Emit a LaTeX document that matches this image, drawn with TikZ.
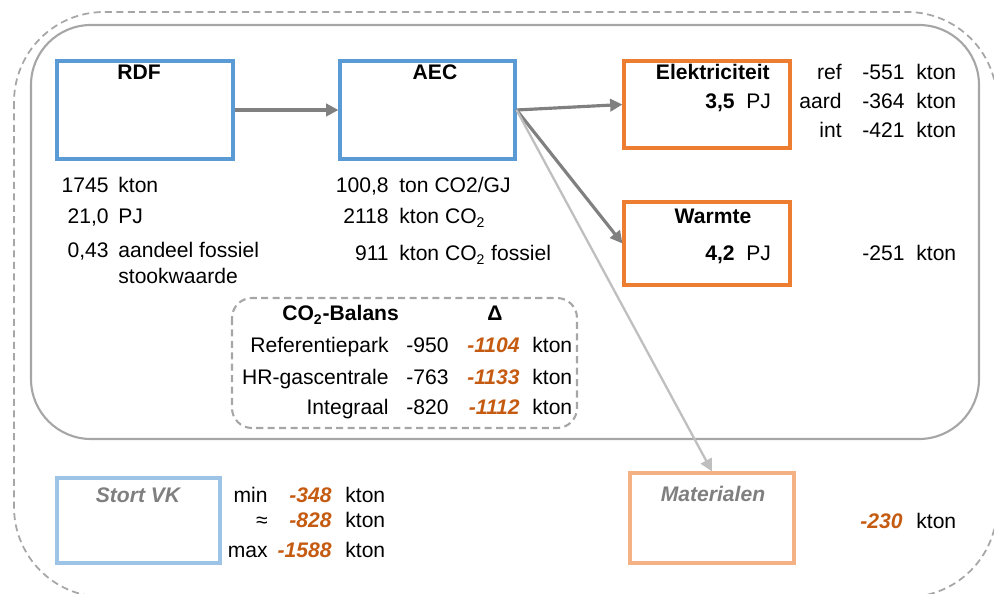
\documentclass[tikz,border=0pt]{standalone}
\usepackage{fontspec}
\setmainfont{Liberation Sans}
\usetikzlibrary{arrows.meta}
\definecolor{rdfblue}{HTML}{5B9BD5}
\definecolor{paleblue}{HTML}{9DC3E6}
\definecolor{outorange}{HTML}{ED7D31}
\definecolor{paleorange}{HTML}{F4B183}
\definecolor{deltaorange}{HTML}{C55A11}
\definecolor{framegray}{HTML}{A6A6A6}
\definecolor{flowgray}{HTML}{808080}
\definecolor{paleflow}{HTML}{BFBFBF}
\definecolor{fadedgray}{HTML}{7F7F7F}

\begin{document}
\begin{tikzpicture}[x=0.02cm, y=-0.02cm,
    font=\fontsize{12}{14.4}\selectfont,
    unit/.style={inner sep=0pt, anchor=base west},
    num/.style={inner sep=0pt, anchor=base east},
    bnum/.style={num, font=\fontsize{12}{14.4}\selectfont\bfseries},
    title/.style={inner sep=0pt, anchor=base, font=\fontsize{12}{14.4}\selectfont\bfseries},
    delta/.style={num, text=deltaorange, font=\fontsize{12}{14.4}\selectfont\bfseries\itshape},
    faded/.style={title, text=fadedgray, font=\fontsize{12}{14.4}\selectfont\bfseries\itshape},
    flowbox/.style={draw, line width=1.8pt, fill=white},
    flow/.style={draw=flowgray, line width=1.8pt, -{Triangle[length=7pt, width=7pt]}},
    dashframe/.style={framegray, line width=1pt, dash pattern=on 4pt off 2.5pt},
  ]
  \useasboundingbox (0,0) rectangle (994,594);
  \clip (0,0) rectangle (994,594);

  \draw[dashframe, rounded corners=1.8cm] (14,12) rectangle (997,597);
  \draw[framegray, line width=1.2pt, rounded corners=1.2cm] (31,25) rectangle (979,439);

  \node[flowbox, draw=rdfblue, minimum width=3.52cm, minimum height=1.96cm] (rdf) at (145,110) {};
  \node[flowbox, draw=rdfblue, minimum width=3.5cm, minimum height=1.96cm] (aec) at (427.5,110) {};
  \node[flowbox, draw=outorange, minimum width=3.32cm, minimum height=1.74cm] (elek) at (707,104.5) {};
  \node[flowbox, draw=outorange, minimum width=3.32cm, minimum height=1.66cm] (warmte) at (707,243.5) {};
  \node[flowbox, draw=paleblue, minimum width=3.26cm, minimum height=1.7cm] (stort) at (138.5,520.5) {};
  \node[flowbox, draw=paleorange, minimum width=3.28cm, minimum height=1.8cm] (mat) at (712,518) {};

  \draw[flow] (rdf) -- (aec);
  \draw[flow] (aec.east) -- (elek.west);
  \draw[flow] (aec.east) -- (warmte.west);
  \draw[flow, draw=paleflow, line width=1.3pt] (aec.east) -- (mat.north);

  \node[title] (rdft) at (139,80) {RDF};
  \node[title] (aect) at (435,80) {AEC};
  \node[title, anchor=base east] (elekt) at (770,80) {Elektriciteit};
  \node[title] (warmtet) at (713,224) {Warmte};
  \node[faded] (stortt) at (138,502) {Stort VK};
  \node[faded] (matt) at (713,501) {Materialen};

  \node[bnum] (elekn) at (735,109) {3,5};
  \node[unit] (eleku) at (746,109) {PJ};
  \node[bnum] (warmten) at (735,261) {4,2};
  \node[unit] (warmteu) at (746,261) {PJ};

  \node[num] (refl) at (842,80) {ref};
  \node[num] (refn) at (905,80) {-551};
  \node[unit] (refu) at (916,80) {kton};
  \node[num] (aardl) at (842,109) {aard};
  \node[num] (aardn) at (905,109) {-364};
  \node[unit] (aardu) at (916,109) {kton};
  \node[num] (intl) at (842,138) {int};
  \node[num] (intn) at (905,138) {-421};
  \node[unit] (intu) at (916,138) {kton};
  \node[num] (whn) at (905,261) {-251};
  \node[unit] (whu) at (916,261) {kton};

  \node[num] (rdfa) at (109,193) {1745};
  \node[unit] (rdfau) at (118,193) {kton};
  \node[num] (rdfb) at (109,224) {21,0};
  \node[unit] (rdfbu) at (118,224) {PJ};
  \node[num] (rdfc) at (109,258) {0,43};
  \node[unit] (rdfcu) at (118,258) {aandeel fossiel};
  \node[unit] (rdfcv) at (118,284) {stookwaarde};

  \node[num] (aeca) at (389,193) {100,8};
  \node[unit] (aecau) at (399,193) {ton CO2/GJ};
  \node[num] (aecb) at (389,224) {2118};
  \node[unit] (aecbu) at (399,224) {kton CO\textsubscript{2}};
  \node[num] (aecc) at (389,261) {911};
  \node[unit] (aeccu) at (399,261) {kton CO\textsubscript{2} fossiel};

  \draw[dashframe, line width=1.2pt, rounded corners=0.4cm] (232,298) rectangle (577,428);
  \node[title, anchor=base west] (balt) at (282,321) {CO\textsubscript{2}-Balans};
  \node[title] (baldelta) at (495,321) {Δ};
  \node[num] (bala) at (389,353) {Referentiepark};
  \node[num] (balan) at (449,353) {-950};
  \node[delta] (balad) at (520,353) {-1104};
  \node[unit] (balau) at (532,353) {kton};
  \node[num] (balb) at (389,385) {HR-gascentrale};
  \node[num] (balbn) at (449,385) {-763};
  \node[delta] (balbd) at (520,385) {-1133};
  \node[unit] (balbu) at (532,385) {kton};
  \node[num] (balc) at (389,415) {Integraal};
  \node[num] (balcn) at (449,415) {-820};
  \node[delta] (balcd) at (520,415) {-1112};
  \node[unit] (balcu) at (532,415) {kton};

  \node[num] (minl) at (268,502) {min};
  \node[delta] (mind) at (332,502) {-348};
  \node[unit] (minu) at (345,502) {kton};
  \node[num] (avgl) at (268,527) {≈};
  \node[delta] (avgd) at (332,527) {-828};
  \node[unit] (avgu) at (345,527) {kton};
  \node[num] (maxl) at (268,557) {max};
  \node[delta] (maxd) at (332,557) {-1588};
  \node[unit] (maxu) at (345,557) {kton};

  \node[delta] (matd) at (903,528) {-230};
  \node[unit] (matu) at (916,528) {kton};
\end{tikzpicture}
\end{document}
